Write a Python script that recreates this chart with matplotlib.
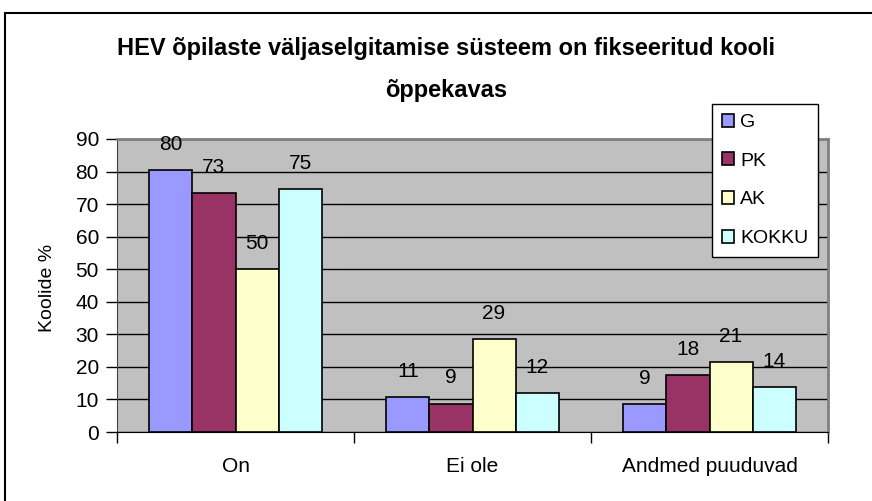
import numpy as np
import matplotlib.pyplot as plt
from matplotlib.patches import Rectangle

categories = ["On", "Ei ole", "Andmed puuduvad"]
series = ["G", "PK", "AK", "KOKKU"]
g_vals = [80.4, 10.6, 8.6]
pk_vals = [73.3, 8.7, 17.6]
ak_vals = [50.0, 28.6, 21.4]
kokku_vals = [74.7, 12.0, 13.7]
colors = ["#9999FF", "#993366", "#FFFFCC", "#CCFFFF"]

title1 = "HEV õpilaste väljaselgitamise süsteem on fikseeritud kooli"
title2 = "õppekavas"
ylabel = "Koolide %"

plt.rcParams['font.family'] = ['Liberation Sans', 'DejaVu Sans']

W, H = 872, 501
fig = plt.figure(figsize=(W / 100, H / 100), dpi=100)

# outer chart border (cropped by the image edge)
fig.patches.append(Rectangle((5 / W, -0.05), 1.1, 1 - 13 / H + 0.05,
                             transform=fig.transFigure, fill=False,
                             edgecolor='black', linewidth=1.5))

ax = fig.add_axes([117 / W, 1 - 432 / H, (828 - 117) / W, (432 - 139) / H])
ax.set_facecolor('#C0C0C0')

all_vals = [g_vals, pk_vals, ak_vals, kokku_vals]
n = len(series)
bw = 1 / 5.5
x = np.arange(len(categories))
for i, (name, vals, c) in enumerate(zip(series, all_vals, colors)):
    pos = x + (i - (n - 1) / 2) * bw
    bars = ax.bar(pos, vals, width=bw, color=c, edgecolor='black',
                  linewidth=1.2, label=name, zorder=3)
    for b, v in zip(bars, vals):
        ax.annotate(f"{round(v):d}", (b.get_x() + b.get_width() / 2, v),
                    xytext=(0, 18.5), textcoords='offset points',
                    ha='center', va='center', fontsize=15, zorder=4)

ax.set_xlim(-0.5, len(categories) - 0.5)
ax.set_ylim(0, 90)
ax.set_yticks(np.arange(0, 91, 10))
ax.yaxis.grid(True, color='black', linewidth=1, zorder=1)
ax.set_axisbelow(True)

ax.set_xticks(x)
ax.set_xticklabels(categories, fontsize=15)
ax.set_xticks(np.arange(len(categories) + 1) - 0.5, minor=True)
ax.tick_params(axis='x', which='major', length=0, pad=18)
ax.tick_params(axis='x', which='minor', length=8, width=1, direction='out')
ax.tick_params(axis='y', length=8, width=1, direction='out', labelsize=15, pad=5)

ax.spines['top'].set_color('#808080')
ax.spines['right'].set_color('#808080')
ax.spines['top'].set_linewidth(2)
ax.spines['right'].set_linewidth(2)
ax.spines['left'].set_color('#404040')
ax.spines['bottom'].set_color('black')

fig.text(48 / W, 1 - 288 / H, ylabel, rotation=90, ha='center', va='center',
         fontsize=14)
fig.text(446 / W, 1 - 49 / H, title1, ha='center', va='center',
         fontsize=17, fontweight='bold')
fig.text(446 / W, 1 - 90 / H, title2, ha='center', va='center',
         fontsize=17, fontweight='bold')

leg = fig.legend(loc='upper left', bbox_to_anchor=(712 / W, 1 - 104 / H),
                 fontsize=14, frameon=True, fancybox=False, shadow=False,
                 framealpha=1, handlelength=0.65, handleheight=0.65,
                 handletextpad=0.3, labelspacing=1.1, borderpad=0.5,
                 borderaxespad=0)
leg.get_frame().set_edgecolor('black')
leg.get_frame().set_linewidth(1)

fig.savefig("out.png", dpi=100)
